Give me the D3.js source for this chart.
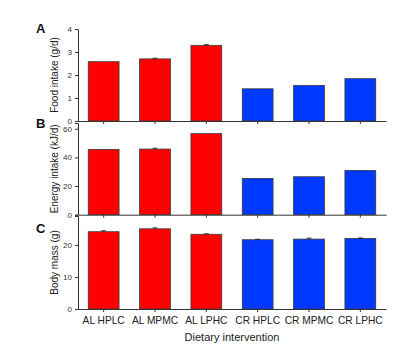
<!DOCTYPE html>
<html>
<head>
<meta charset="utf-8">
<script src="https://cdn.jsdelivr.net/npm/d3@7"></script>
<style>
  body { margin: 0; background: #fff; }
  text { font-family: "Liberation Sans", Arial, sans-serif; }
</style>
</head>
<body>
<script>
let width = 400;
let height = 354;

let groups = ["AL HPLC", "AL MPMC", "AL LPHC", "CR HPLC", "CR MPMC", "CR LPHC"];
let foodIntake = [2.58, 2.70, 3.29, 1.40, 1.55, 1.84];
let foodErr = [0.0, 0.03, 0.03, 0.0, 0.0, 0.0];
let energyIntake = [45.6, 45.8, 56.6, 25.3, 26.5, 30.9];
let energyErr = [0.0, 0.6, 0.0, 0.0, 0.0, 0.0];
let bodyMass = [24.1, 25.0, 23.3, 21.6, 21.8, 22.0];
let massErr = [0.3, 0.3, 0.15, 0.15, 0.3, 0.15];
let foodTicks = [0, 1, 2, 3, 4];
let energyTicks = [0, 20, 40, 60];
let massTicks = [0, 10, 20];

let svg = d3.select("body").append("svg").attr("width", width).attr("height", height);

let x = d3.scaleBand().domain(groups).range([78, 386]).paddingInner(0.4).paddingOuter(0.2);

let color = d => d.startsWith("AL") ? "#ff0000" : "#0038ff";

let panels = [
    {letter: "A", title: "Food intake (g/d)", values: foodIntake, errs: foodErr, ticks: foodTicks,
        y: d3.scaleLinear().domain([0, 4]).range([121, 29]), letterY: 33},
    {letter: "B", title: "Energy intake (kJ/d)", values: energyIntake, errs: energyErr, ticks: energyTicks,
        y: d3.scaleLinear().domain([0, 64]).range([214.7, 123]), letterY: 128},
    {letter: "C", title: "Body mass (g)", values: bodyMass, errs: massErr, ticks: massTicks,
        y: d3.scaleLinear().domain([0, 29]).range([309, 216]), letterY: 233}
];

panels.forEach(p => {
    let g = svg.append("g");
    let rows = groups.map((name, i) => ({name, value: p.values[i], err: p.errs[i]}));

    g.selectAll("rect")
        .data(rows)
        .join("rect")
        .attr("x", d => x(d.name))
        .attr("width", x.bandwidth())
        .attr("y", d => p.y(d.value))
        .attr("height", d => p.y(0) - p.y(d.value))
        .attr("fill", d => color(d.name))
        .attr("stroke", "#3a3a3a")
        .attr("stroke-width", 0.8);

    // error bars (only where visible)
    g.selectAll("path.err")
        .data(rows.filter(d => d.err > 0))
        .join("path")
        .attr("class", "err")
        .attr("fill", "none")
        .attr("stroke", "#111")
        .attr("stroke-width", 0.8)
        .attr("d", d => {
            let cx = x(d.name) + x.bandwidth() / 2;
            let top = p.y(d.value + d.err);
            return `M${cx},${p.y(d.value)}V${top}M${cx - 2.5},${top}H${cx + 2.5}`;
        });

    let yAxis = d3.axisLeft(p.y).tickValues(p.ticks).tickFormat(d3.format("d")).tickSize(3).tickPadding(3);
    g.append("g")
        .attr("transform", "translate(78,0)")
        .call(yAxis)
        .call(a => a.select(".domain").attr("stroke", "#333"))
        .call(a => a.selectAll(".tick line").attr("stroke", "#333"))
        .call(a => a.selectAll("text").attr("font-size", 8).attr("fill", "#333")
            .attr("font-family", "Liberation Sans, Arial, sans-serif"));

    let xAxis = d3.axisBottom(x).tickSize(3).tickSizeOuter(0).tickFormat("");
    g.append("g")
        .attr("transform", `translate(0,${p.y(0)})`)
        .call(xAxis)
        .call(a => a.select(".domain").attr("stroke", "#333"))
        .call(a => a.selectAll(".tick line").attr("stroke", "#333"));

    let mid = (p.y.range()[0] + p.y.range()[1]) / 2;
    g.append("text")
        .attr("transform", `translate(58,${mid}) rotate(-90)`)
        .attr("text-anchor", "middle")
        .attr("font-size", 10)
        .attr("fill", "#222")
        .text(p.title);

    g.append("text")
        .attr("x", 36)
        .attr("y", p.letterY)
        .attr("font-size", 13)
        .attr("font-weight", "bold")
        .attr("fill", "#111")
        .text(p.letter);
});

svg.append("g")
    .attr("font-size", 10.2)
    .attr("fill", "#222")
    .attr("text-anchor", "middle")
    .selectAll("text")
    .data(groups)
    .join("text")
    .attr("x", d => x(d) + x.bandwidth() / 2)
    .attr("y", 324)
    .text(d => d);

svg.append("text")
    .attr("x", 232)
    .attr("y", 341)
    .attr("text-anchor", "middle")
    .attr("font-size", 11)
    .attr("fill", "#222")
    .text("Dietary intervention");
</script>
</body>
</html>
